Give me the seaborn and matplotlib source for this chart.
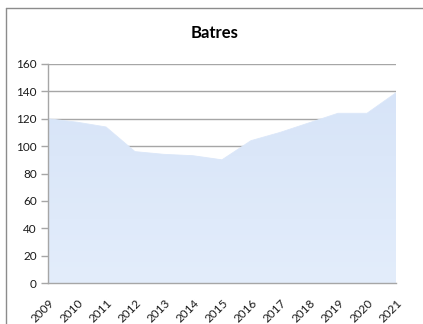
import numpy as np
import pandas as pd
import matplotlib
matplotlib.use("Agg")
import matplotlib.pyplot as plt
import seaborn as sns
from matplotlib.colors import LinearSegmentedColormap
from matplotlib.lines import Line2D

years = [2009, 2010, 2011, 2012, 2013, 2014, 2015, 2016, 2017, 2018, 2019, 2020, 2021]
values = [120, 117.5, 114, 96, 94, 93, 90, 104, 110, 117, 124, 124, 139]
y_ticks = [0, 20, 40, 60, 80, 100, 120, 140, 160]
title = "Batres"

df = pd.DataFrame({"year": years, "value": values})

sns.set_theme(style="white")
plt.rcParams["font.family"] = ["Lato", "DejaVu Sans"]

fig = plt.figure(figsize=(4.23, 3.24), dpi=100)
ax = fig.add_axes([48 / 423, 1 - 283 / 324, (396 - 48) / 423, (283 - 64) / 324])

# horizontal gridlines behind the area
for t in y_ticks[1:]:
    ax.axhline(t, color="#a6a6a6", lw=1.0, zorder=0)

# area outline and fill
sns.lineplot(data=df, x="year", y="value", ax=ax, color="#dbe7f9", lw=0.6, zorder=2)
poly = ax.fill_between(df["year"], df["value"], 0, color="none", lw=0, zorder=2)

# vertical gradient clipped to the filled area
cmap = LinearSegmentedColormap.from_list("area", ["#e3edfb", "#d7e4f8"])
grad = np.linspace(0, 1, 256).reshape(-1, 1)
img = ax.imshow(grad, cmap=cmap, aspect="auto", origin="lower",
                extent=[years[0], years[-1], 0, max(values)], zorder=1.5)
path = poly.get_paths()[0]
img.set_clip_path(path, transform=ax.transData)

ax.set_xlim(years[0], years[-1])
ax.set_ylim(0, 160)
ax.set_xticks(years)
ax.set_xticklabels([str(y) for y in years], rotation=45, ha="right",
                   rotation_mode="anchor", fontsize=8.5, color="#1a1a1a")
ax.set_yticks(y_ticks)
ax.set_yticklabels([str(t) for t in y_ticks], fontsize=8.5, color="#1a1a1a")
ax.set_xlabel("")
ax.set_ylabel("")

for side in ["top", "right"]:
    ax.spines[side].set_visible(False)
for side in ["left", "bottom"]:
    ax.spines[side].set_color("#a6a6a6")
    ax.spines[side].set_linewidth(1.0)

ax.tick_params(axis="y", which="both", left=True, length=5, width=1.0,
               color="#a6a6a6", pad=3)
ax.tick_params(axis="x", which="both", bottom=False, pad=4)

fig.text(215 / 423, 1 - 33 / 324, title, ha="center", va="center",
         fontsize=12, fontweight="bold", color="#000000")

# chart frame (left and top edges)
fig.add_artist(Line2D([5.5 / 423, 5.5 / 423], [0, 1 - 7.5 / 324],
                      transform=fig.transFigure, color="#8c8c8c", lw=1.0))
fig.add_artist(Line2D([5.5 / 423, 1], [1 - 7.5 / 324, 1 - 7.5 / 324],
                      transform=fig.transFigure, color="#8c8c8c", lw=1.0))

fig.savefig("out.png", dpi=100)
